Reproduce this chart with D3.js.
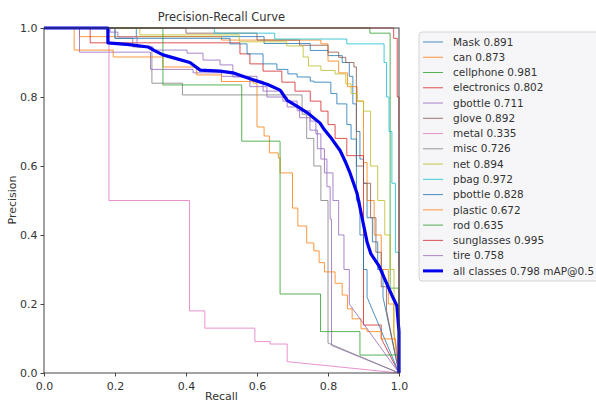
<!DOCTYPE html>
<html lang="en">
<head>
<meta charset="UTF-8">
<title>PR curve</title>
<script src="https://cdn.jsdelivr.net/npm/d3@7"></script>
<style>
  body { margin: 0; background: #fff; }
  text { font-family: "DejaVu Sans", sans-serif; fill: #333; }
</style>
</head>
<body>
<svg id="chart" width="596" height="401"></svg>
<script>
// class names and AP values shown in legend
const classNames = ["Mask", "can", "cellphone", "electronics", "gbottle", "glove", "metal", "misc",
  "net", "pbag", "pbottle", "plastic", "rod", "sunglasses", "tire"];
const apValues = [0.891, 0.873, 0.981, 0.802, 0.711, 0.892, 0.335, 0.726,
  0.894, 0.972, 0.828, 0.672, 0.635, 0.995, 0.758];
const mapAll = 0.798;
const ticks = [0, 0.2, 0.4, 0.6, 0.8, 1.0];

// [recall, precision] step points (precision holds until next recall)
const prMask = [[0,1],[0.26,0.975],[0.62,0.955],[0.75,0.935],[0.8,0.92],[0.84,0.9],[0.86,0.86],[0.87,0.78],
  [0.88,0.7],[0.89,0.62],[0.9,0.55],[0.91,0.45],[0.925,0.38],[0.94,0.3],[0.955,0.22]];
const prCan = [[0,1],[0.1,0.975],[0.5,0.965],[0.78,0.954],[0.8,0.904],[0.83,0.87],[0.855,0.83],[0.882,0.788],
  [0.9,0.61],[0.91,0.5],[0.93,0.4],[0.95,0.3],[0.97,0.2],[0.985,0.12]];
const prCellphone = [[0,1],[0.918,0.985],[0.975,0.246],[1.0,0.246]];
const prElectronics = [[0,1],[0.13,0.957],[0.552,0.925],[0.58,0.896],[0.617,0.875],[0.67,0.843],[0.707,0.817],
  [0.75,0.788],[0.78,0.759],[0.8,0.72],[0.82,0.68],[0.853,0.63],[0.9,0.139],[0.95,0.1]];
const prGbottle = [[0,1],[0.1,0.93],[0.3,0.88],[0.42,0.87],[0.5,0.86],[0.6,0.846],[0.617,0.817],[0.673,0.788],
  [0.713,0.76],[0.75,0.73],[0.766,0.693],[0.78,0.62],[0.797,0.54],[0.806,0.446],[0.81,0.08]];
const prGlove = [[0,1],[0.4,0.985],[0.6,0.965],[0.72,0.95],[0.8,0.93],[0.83,0.915],[0.85,0.9],[0.873,0.887],
  [0.88,0.6],[0.9,0.55],[0.92,0.45],[0.935,0.35],[0.95,0.25],[0.965,0.18]];
const prMetal = [[0,1],[0.183,0.5],[0.41,0.18],[0.453,0.13],[0.594,0.091],[0.637,0.084],[0.685,0.033]];
const prMisc = [[0,1],[0.2,0.97],[0.25,0.945],[0.304,0.84],[0.39,0.806],[0.727,0.75],[0.74,0.68],[0.76,0.6],
  [0.78,0.5],[0.8,0.087]];
const prNet = [[0,1],[0.27,0.98],[0.55,0.96],[0.684,0.948],[0.73,0.916],[0.745,0.89],[0.78,0.877],[0.82,0.867],
  [0.85,0.838],[0.865,0.81],[0.882,0.788],[0.9,0.759],[0.92,0.6],[0.94,0.5],[0.96,0.4],[0.975,0.3],[0.986,0.12]];
const prPbag = [[0,1],[0.48,0.985],[0.65,0.968],[0.853,0.954],[0.958,0.9],[0.965,0.8],[0.972,0.7],[0.98,0.55],
  [0.99,0.35],[1.0,0.3]];
const prPbottle = [[0,1],[0.2,0.97],[0.524,0.954],[0.572,0.925],[0.617,0.896],[0.656,0.88],[0.687,0.867],
  [0.713,0.858],[0.75,0.846],[0.76,0.843],[0.808,0.81],[0.825,0.78],[0.853,0.72],[0.865,0.678],[0.88,0.5],
  [0.89,0.4],[0.9,0.3],[0.91,0.22]];
const prPlastic = [[0,1],[0.085,0.936],[0.195,0.916],[0.335,0.887],[0.43,0.864],[0.5,0.845],[0.59,0.84],
  [0.6,0.713],[0.62,0.687],[0.635,0.638],[0.66,0.623],[0.665,0.58],[0.7,0.478],[0.715,0.426],[0.74,0.377],
  [0.76,0.354],[0.775,0.32],[0.79,0.293],[0.82,0.26],[0.84,0.226],[0.855,0.186],[0.868,0.157],[0.893,0.128],
  [0.91,0.12],[0.95,0.099],[0.99,0.099]];
const prRod = [[0,1],[0.335,0.835],[0.557,0.672],[0.665,0.229],[0.779,0.12],[0.89,0.052],[1.0,0.052]];
const prSunglasses = [[0,1],[0.985,0.97],[0.995,0.8],[1.0,0.8]];
const prTire = [[0,1],[0.186,0.988],[0.208,0.974],[0.262,0.945],[0.307,0.936],[0.403,0.927],[0.448,0.907],
  [0.496,0.893],[0.532,0.858],[0.58,0.83],[0.628,0.8],[0.685,0.771],[0.72,0.74],[0.749,0.704],[0.77,0.65],
  [0.79,0.58],[0.814,0.5],[0.83,0.4],[0.845,0.3],[0.86,0.2]];
// mean curve over all classes
const prAll = [[0,1],[0.082,1],[0.18,1],[0.18,0.957],[0.24,0.952],[0.293,0.945],[0.31,0.935],[0.335,0.922],
  [0.37,0.912],[0.411,0.9],[0.44,0.878],[0.496,0.875],[0.532,0.87],[0.56,0.86],[0.589,0.85],[0.63,0.836],
  [0.665,0.82],[0.685,0.79],[0.71,0.775],[0.741,0.755],[0.777,0.725],[0.79,0.705],[0.806,0.685],
  [0.834,0.645],[0.85,0.61],[0.862,0.58],[0.882,0.52],[0.896,0.45],[0.91,0.38],[0.921,0.345],[0.944,0.31],
  [0.963,0.265],[0.98,0.225],[0.994,0.195],[1.0,0.12]];

const curves = [prMask, prCan, prCellphone, prElectronics, prGbottle, prGlove, prMetal, prMisc,
  prNet, prPbag, prPbottle, prPlastic, prRod, prSunglasses, prTire];
const palette = ["#1f77b4","#ff7f0e","#2ca02c","#d62728","#9467bd","#8c564b","#e377c2","#7f7f7f",
  "#bcbd22","#17becf"];

const svg = d3.select("#chart");
const x = d3.scaleLinear().domain([0, 1]).range([44, 399]);
const y = d3.scaleLinear().domain([0, 1]).range([373, 28]);

const stepLine = d3.line().x(d => x(d[0])).y(d => y(d[1])).curve(d3.curveStepAfter);
const plainLine = d3.line().x(d => x(d[0])).y(d => y(d[1]));

const plot = svg.append("g");
curves.forEach((pts, i) => {
  let col = palette[i % 10];
  plot.append("path").attr("d", stepLine(pts))
    .attr("fill", "none").attr("stroke", col).attr("stroke-width", 1).attr("opacity", 0.8);
  // after the last recall the curve runs straight to (1, 0)
  plot.append("path").attr("d", plainLine([pts[pts.length - 1], [1, 0]]))
    .attr("fill", "none").attr("stroke", col).attr("stroke-width", 1).attr("opacity", 0.8);
});
plot.append("path").attr("d", plainLine(prAll.concat([[1, 0]])))
  .attr("fill", "none").attr("stroke", "#0000ee").attr("stroke-width", 3.2)
  .attr("stroke-linejoin", "round");

// axes
let xAxis = svg.append("g").attr("transform", "translate(0,373)")
  .call(d3.axisBottom(x).tickValues(ticks).tickFormat(d3.format(".1f")).tickSizeOuter(0).tickSize(3.5));
let yAxis = svg.append("g").attr("transform", "translate(44,0)")
  .call(d3.axisLeft(y).tickValues(ticks).tickFormat(d3.format(".1f")).tickSizeOuter(0).tickSize(3.5));
[xAxis, yAxis].forEach(a => {
  a.select(".domain").remove();
  a.selectAll("line").attr("stroke", "#444");
  a.selectAll("text").style("font-size", "11px").attr("fill", "#333");
});
xAxis.selectAll("text").attr("dy", "0.95em");

// frame
svg.append("rect").attr("x", x(0)).attr("y", y(1)).attr("width", x(1) - x(0)).attr("height", y(0) - y(1))
  .attr("fill", "none").attr("stroke", "#444").attr("stroke-width", 1);

svg.append("text").attr("x", 221.5).attr("y", 21).attr("text-anchor", "middle")
  .style("font-size", "11.5px").text("Precision-Recall Curve");
svg.append("text").attr("x", 221.5).attr("y", 399.5).attr("text-anchor", "middle")
  .style("font-size", "11px").text("Recall");
svg.append("text").attr("transform", "translate(16,200) rotate(-90)").attr("text-anchor", "middle")
  .style("font-size", "11px").text("Precision");

// legend
let legend = svg.append("g");
legend.append("rect").attr("x", 419).attr("y", 32).attr("width", 190).attr("height", 249).attr("rx", 3)
  .attr("fill", "#f6f6f8").attr("stroke", "#d4d4d8");
let labels = classNames.map((c, i) => c + " " + apValues[i].toFixed(3));
labels.push("all classes " + mapAll.toFixed(3) + " mAP@0.5");
labels.forEach((t, i) => {
  let ly = 42 + i * 15.26;
  let last = i === labels.length - 1;
  legend.append("line").attr("x1", 423).attr("x2", 443).attr("y1", ly).attr("y2", ly)
    .attr("stroke", last ? "#0000ee" : palette[i % 10])
    .attr("stroke-width", last ? 3 : 1).attr("opacity", last ? 1 : 0.8);
  legend.append("text").attr("x", 453).attr("y", ly).attr("dy", "0.35em")
    .style("font-size", "10.5px").text(t);
});
</script>
</html>
